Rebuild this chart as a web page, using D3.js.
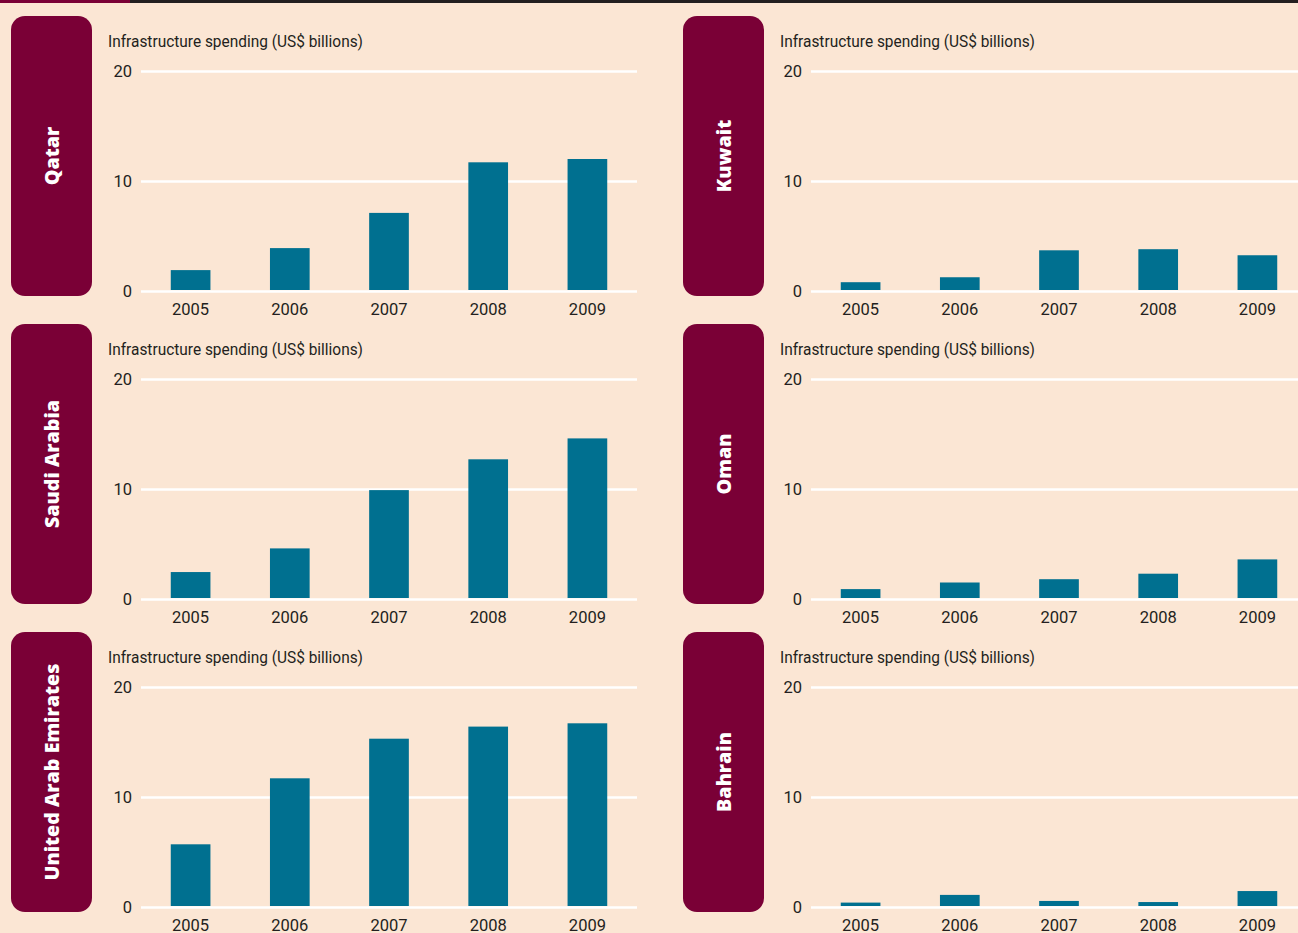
<!DOCTYPE html>
<html><head><meta charset="utf-8">
<script src="https://cdn.jsdelivr.net/npm/d3@7/dist/d3.min.js"></script>
<style>
html,body{margin:0;padding:0;background:#fbe6d4;overflow:hidden;}
svg{display:block;}
.t{font-family:"Roboto",sans-serif;fill:#231f20;}
</style></head>
<body>
<svg id="c" width="1298" height="933"></svg>
<script>
const years = ["2005","2006","2007","2008","2009"];
const countries = ["Qatar","Kuwait","Saudi Arabia","Oman","United Arab Emirates","Bahrain"];
const qatar   = [1.9, 3.9, 7.1, 11.7, 12.0];
const kuwait  = [0.8, 1.25, 3.7, 3.8, 3.25];
const saudi   = [2.45, 4.6, 9.9, 12.7, 14.6];
const oman    = [0.9, 1.5, 1.8, 2.3, 3.6];
const uae     = [5.7, 11.7, 15.3, 16.4, 16.7];
const bahrain = [0.4, 1.1, 0.55, 0.45, 1.45];
const yTicks  = [0, 10, 20];
const axisTitle = "Infrastructure spending (US$ billions)";

const seriesList = [qatar, kuwait, saudi, oman, uae, bahrain];

const svg = d3.select("#c");
const W = 1298;

// top strip
svg.append("rect").attr("x",0).attr("y",0).attr("width",W).attr("height",3).attr("fill","#231f20");
svg.append("rect").attr("x",0).attr("y",0).attr("width",130).attr("height",3).attr("fill","#7a0036");

countries.forEach((name, i) => {
  const col = i % 2, row = Math.floor(i / 2);
  const ox = col * 670, oy = row * 308;
  const bx = col * 672;
  const g = svg.append("g");

  // label box
  g.append("rect").attr("x", 11 + bx).attr("y", 16 + oy).attr("width", 81).attr("height", 280)
    .attr("rx", 14).attr("fill", "#7a0036");
  g.append("text").attr("transform", `translate(${59 + bx},${156 + oy}) rotate(-90)`)
    .attr("text-anchor","middle")
    .style("font-family","'Open Sans','Roboto',sans-serif").style("font-weight","800")
    .style("font-size","19.7px").attr("fill","#fff").text(name);

  const x = d3.scaleBand().domain(years).range([141 + ox, 637 + ox]).paddingInner(0.6).paddingOuter(0.3);
  const y = d3.scaleLinear().domain([0, 20]).range([291 + oy, 71 + oy]);

  g.append("text").attr("class","t").attr("x", 108 + bx).attr("y", 47 + oy)
    .attr("textLength", 255).attr("lengthAdjust","spacingAndGlyphs")
    .style("font-size","16.5px").text(axisTitle);

  const ya = g.append("g").attr("transform", `translate(${141 + ox},0)`)
    .call(d3.axisLeft(y).tickValues(yTicks).tickSize(-496).tickPadding(9).tickFormat(d3.format("d")));
  ya.select(".domain").remove();
  ya.selectAll("line").attr("stroke","#fff").attr("stroke-width",2.5);
  ya.selectAll("text").attr("class","t").style("font-size","16.5px").attr("font-family",null);

  const data = seriesList[i];
  g.selectAll("rect.bar").data(data).enter().append("rect").attr("class","bar")
    .attr("x", (d, j) => x(years[j]))
    .attr("width", x.bandwidth())
    .attr("y", d => y(d))
    .attr("height", d => y(0) - y(d) - 1)
    .attr("fill", "#007090");

  const xa = g.append("g").attr("transform", `translate(0,${291 + oy})`)
    .call(d3.axisBottom(x).tickSize(0).tickPadding(12));
  xa.select(".domain").remove();
  xa.selectAll("text").attr("class","t").style("font-size","16.5px").attr("font-family",null);
});
</script>
</body></html>
